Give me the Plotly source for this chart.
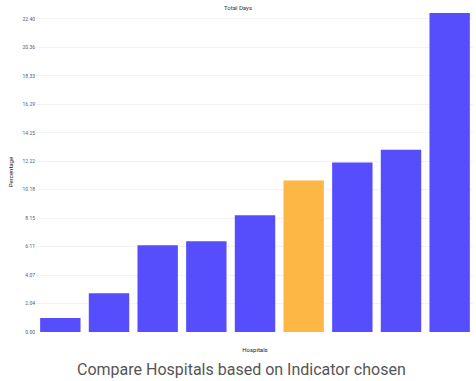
import plotly.graph_objects as go

hospitals = ["Hospital A", "Hospital B", "Hospital C", "Hospital D", "Hospital E",
             "Hospital F", "Hospital G", "Hospital H", "Hospital I"]
values = [1.0, 2.78, 6.2, 6.5, 8.35, 10.84, 12.13, 13.05, 22.82]
highlight = "Hospital F"
tick_max = 22.40
n_ticks = 11
tick_vals = [tick_max * i / n_ticks for i in range(n_ticks + 1)]
tick_text = [f"{v:.2f}" for v in tick_vals]

colors = ["#FDB43C" if h == highlight else "#4E45FD" for h in hospitals]

fig = go.Figure(go.Bar(x=hospitals, y=values, marker=dict(color=colors, line=dict(width=0)),
                       opacity=0.95))

fig.update_layout(
    width=476, height=381,
    margin=dict(l=36, r=2, t=12, b=49),
    paper_bgcolor="white", plot_bgcolor="white",
    bargap=0.17,
    showlegend=False,
    title=dict(text="Total Days", x=0.5, xanchor="center", y=0.985, yanchor="top",
               font=dict(size=6, color="#333", family="Roboto")),
    xaxis=dict(showticklabels=False, showgrid=False, zeroline=False, showline=False,
               title=dict(text="Hospitals", font=dict(size=6, color="#222", family="Roboto"), standoff=15)),
    yaxis=dict(range=[0, 22.9], tickvals=tick_vals, ticktext=tick_text,
               showgrid=True, gridcolor="#f3f3f3", gridwidth=1, zeroline=False,
               tickfont=dict(size=5, color="#4a5a8a", family="Roboto"),
               title=dict(text="Percentage", font=dict(size=6, color="#222", family="Roboto"), standoff=8)),
    annotations=[dict(text="Compare Hospitals based on Indicator chosen", xref="paper", yref="paper",
                      x=0.47, y=-0.08, xanchor="center", yanchor="top", showarrow=False,
                      font=dict(size=16, color="#555", family="Roboto"))],
)

fig.write_html("out.html")
